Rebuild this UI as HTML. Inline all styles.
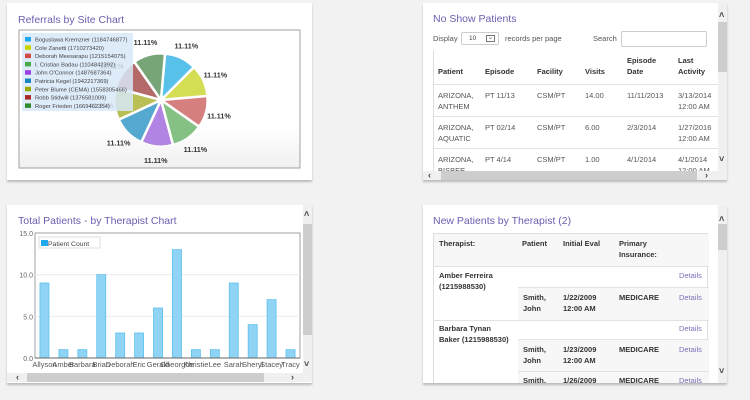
<!DOCTYPE html>
<html><head><meta charset="utf-8"><style>
*{box-sizing:border-box;margin:0;padding:0}
body{width:750px;height:400px;background:#f2f2f2;font-family:"Liberation Sans",sans-serif;position:relative;overflow:hidden;color:#444}
.panel{position:absolute;background:#fff;box-shadow:0 2px 2px #bbb;overflow:hidden}
.title{position:absolute;font-size:10.5px;color:#6a5fb0;white-space:nowrap}
.abs{position:absolute;white-space:nowrap}
.vs{position:absolute;width:9px;background:#f0f0f0}
.hs{position:absolute;height:9px;background:#f0f0f0}
.thumb{position:absolute;background:#cdcdcd}
.t{position:absolute;font-size:7.5px;line-height:11px;color:#555;white-space:nowrap}
.b{font-weight:bold;color:#333}
.ln{position:absolute;height:1px;background:#e2e2e2}
.lk{color:#7a70b8}
.ar{position:absolute;font-size:9px;color:#444;font-weight:bold;line-height:9px}
</style></head><body>

<div class="panel" style="left:7px;top:3px;width:305px;height:177px">
<div class="title" style="left:11px;top:11px">Referrals by Site Chart</div>
<svg id="pie" width="305" height="177" style="position:absolute;left:0;top:0"></svg>
</div>

<div class="panel" style="left:7px;top:205px;width:305px;height:178px">
<div class="title" style="left:11px;top:10px">Total Patients - by Therapist Chart</div>
<svg id="bar" width="305" height="178" style="position:absolute;left:0;top:0"></svg>
<div class="vs" style="left:296px;top:0;height:168px"><div class="thumb" style="left:0;top:19px;width:9px;height:111px"></div><div class="ar" style="left:1px;top:5px">&#708;</div><div class="ar" style="left:1px;top:155px">&#709;</div></div>
<div class="hs" style="left:0;top:168px;width:305px"><div class="thumb" style="left:20px;top:0;width:237px;height:9px"></div><div class="ar" style="left:9px;top:0">&lsaquo;</div><div class="ar" style="left:284px;top:0">&rsaquo;</div></div>
</div>

<div class="panel" style="left:423px;top:3px;width:304px;height:177px">
<div class="title" style="left:10px;top:10px">No Show Patients</div>
<div class="t" style="left:10px;top:30px">Display</div>
<div class="abs" style="left:38px;top:29px;width:38px;height:13px;border:1px solid #ccc;border-radius:2px;font-size:6.5px;padding:2px 0 0 7px">10<span style="position:absolute;right:3px;top:2px;width:9px;height:7px;border:1px solid #777;font-size:6px;line-height:5px;text-align:center">&#8964;</span></div>
<div class="t" style="left:82px;top:30px">records per page</div>
<div class="t" style="left:170px;top:30px">Search</div>
<div class="abs" style="left:198px;top:28px;width:86px;height:16px;border:1px solid #ccc;border-radius:2px"></div>
<div class="abs" style="left:10px;top:47px;width:288px;height:123px;border-left:1px solid #ddd">
<div class="t b" style="left:4px;top:16px">Patient</div><div class="t b" style="left:51px;top:16px">Episode</div><div class="t b" style="left:103px;top:16px">Facility</div><div class="t b" style="left:151px;top:16px">Visits</div><div class="t b" style="left:193px;top:5px">Episode<br>Date</div><div class="t b" style="left:244px;top:5px">Last<br>Activity</div>
<div class="ln" style="left:0;top:34px;width:288px"></div>
<div class="t" style="left:4px;top:40px">ARIZONA,<br>ANTHEM</div><div class="t" style="left:51px;top:40px">PT 11/13</div><div class="t" style="left:103px;top:40px">CSM/PT</div><div class="t" style="left:151px;top:40px">14.00</div><div class="t" style="left:193px;top:40px">11/11/2013</div><div class="t" style="left:244px;top:40px">3/13/2014<br>12:00 AM</div>
<div class="ln" style="left:0;top:66px;width:288px"></div>
<div class="t" style="left:4px;top:72px">ARIZONA,<br>AQUATIC</div><div class="t" style="left:51px;top:72px">PT 02/14</div><div class="t" style="left:103px;top:72px">CSM/PT</div><div class="t" style="left:151px;top:72px">6.00</div><div class="t" style="left:193px;top:72px">2/3/2014</div><div class="t" style="left:244px;top:72px">1/27/2016<br>12:00 AM</div>
<div class="ln" style="left:0;top:98px;width:288px"></div>
<div class="t" style="left:4px;top:104px">ARIZONA,<br>BISBEE</div><div class="t" style="left:51px;top:104px">PT 4/14</div><div class="t" style="left:103px;top:104px">CSM/PT</div><div class="t" style="left:151px;top:104px">1.00</div><div class="t" style="left:193px;top:104px">4/1/2014</div><div class="t" style="left:244px;top:104px">4/1/2014<br>12:00 AM</div>
</div>
<div class="vs" style="left:295px;top:0;height:168px"><div class="thumb" style="left:0;top:19px;width:9px;height:50px"></div><div class="ar" style="left:1px;top:8px">&#708;</div><div class="ar" style="left:1px;top:152px">&#709;</div></div>
<div class="hs" style="left:0;top:168px;width:304px"><div class="thumb" style="left:18px;top:0;width:256px;height:9px"></div><div class="ar" style="left:5px;top:0">&lsaquo;</div><div class="ar" style="left:282px;top:0">&rsaquo;</div></div>
</div>

<div class="panel" style="left:423px;top:205px;width:304px;height:178px">
<div class="title" style="left:10px;top:10px">New Patients by Therapist (2)</div>
<div class="abs" style="left:10px;top:28px;width:275px;height:160px;border:1px solid #ddd">
<div class="abs" style="left:0;top:0;width:275px;height:32px;background:#f7f7f7"></div>
<div class="t b" style="left:5px;top:4px">Therapist:</div><div class="t b" style="left:88px;top:4px">Patient</div><div class="t b" style="left:129px;top:4px">Initial Eval</div><div class="t b" style="left:185px;top:4px">Primary<br>Insurance:</div>
<div class="ln" style="left:0;top:32px;width:275px"></div>
<div class="t b" style="left:5px;top:36px">Amber Ferreira<br>(1215988530)</div><div class="t lk" style="left:245px;top:36px">Details</div>
<div class="abs" style="left:84px;top:53px;width:191px;height:33px;background:#f7f7f7;border-top:1px solid #e2e2e2"></div>
<div class="t b" style="left:89px;top:58px">Smith,<br>John</div><div class="t b" style="left:129px;top:58px">1/22/2009<br>12:00 AM</div><div class="t b" style="left:185px;top:58px">MEDICARE</div><div class="t lk" style="left:245px;top:58px">Details</div>
<div class="ln" style="left:0;top:86px;width:275px"></div>
<div class="t b" style="left:5px;top:89px">Barbara Tynan<br>Baker (1215988530)</div><div class="t lk" style="left:245px;top:89px">Details</div>
<div class="abs" style="left:84px;top:105px;width:191px;height:60px;background:#f7f7f7;border-top:1px solid #e2e2e2"></div>
<div class="t b" style="left:89px;top:110px">Smith,<br>John</div><div class="t b" style="left:129px;top:110px">1/23/2009<br>12:00 AM</div><div class="t b" style="left:185px;top:110px">MEDICARE</div><div class="t lk" style="left:245px;top:110px">Details</div>
<div class="ln" style="left:84px;top:137px;width:191px"></div>
<div class="t b" style="left:89px;top:141px">Smith,</div><div class="t b" style="left:129px;top:141px">1/26/2009</div><div class="t b" style="left:185px;top:141px">MEDICARE</div><div class="t lk" style="left:245px;top:141px">Details</div>
</div>
<div class="vs" style="left:295px;top:0;height:178px"><div class="thumb" style="left:0;top:19px;width:9px;height:26px"></div><div class="ar" style="left:1px;top:10px">&#708;</div><div class="ar" style="left:1px;top:162px">&#709;</div></div>
</div>

<script>
const NS="http://www.w3.org/2000/svg";
function mk(p,tag,attrs,txt){const e=document.createElementNS(NS,tag);for(const k in attrs)e.setAttribute(k,attrs[k]);if(txt!==undefined)e.textContent=txt;p.appendChild(e);return e;}

// ---- Pie data ----
const pieNames=["Boguslawa Kremzner (1184746877)","Cole Zanetti (1710273420)","Deborah Meesarapu (1215154075)","I. Cristian Badau (1104842392)","John O'Connor (1487687364)","Patricia Kegel (1942217369)","Peter Blume (CEMA) (1558305466)","Robb Stidwill (1376581009)","Roger Frieden (1669462354)"];
const pieValues=[1,1,1,1,1,1,1,1,1];
const pieColors=["#57c1ea","#d3de55","#d67f7f","#85c185","#b184e3","#55a8cf","#b9bf55","#b56a6a","#77a577"];
const legColors=["#1fa8ec","#c8d400","#d04a4a","#4aaa4a","#9a3fe8","#1a86c0","#9aaa00","#a82828","#2e8a2e"];
(function(){
  const svg=document.getElementById('pie');
  const defs=mk(svg,'defs',{});
  const g=mk(defs,'linearGradient',{id:'bg',x1:0,y1:0,x2:0,y2:1});
  mk(g,'stop',{offset:'0%','stop-color':'#fff'});
  mk(g,'stop',{offset:'70%','stop-color':'#fff'});
  mk(g,'stop',{offset:'100%','stop-color':'#f0f0f0'});
  mk(svg,'rect',{x:12,y:27,width:281,height:138,fill:'url(#bg)',stroke:'#a0a0a0','stroke-width':1});
  const cx=154,cy=97,r=44,total=pieValues.reduce((a,b)=>a+b,0);
  let a=-85*Math.PI/180;
  pieValues.forEach((v,i)=>{
    const s=v/total*2*Math.PI,a2=a+s,m=a+s/2,ox=Math.cos(m)*2,oy=Math.sin(m)*2;
    const x1=cx+ox+r*Math.cos(a),y1=cy+oy+r*Math.sin(a),x2=cx+ox+r*Math.cos(a2),y2=cy+oy+r*Math.sin(a2);
    const p=mk(svg,'path',{d:`M${cx+ox},${cy+oy}L${x1},${y1}A${r},${r} 0 ${s>Math.PI?1:0} 1 ${x2},${y2}Z`,fill:pieColors[i],stroke:'#fff','stroke-width':1.2});
    
    
    const pct=(v/total*100).toFixed(2)+'%';
    const t=mk(svg,'text',{x:cx+Math.cos(m)*60,y:cy+Math.sin(m)*60+3,'font-size':7.2,'font-weight':'bold',fill:'#333','text-anchor':'middle'},pct);
    
    
    a=a2;
  });
  const lg=mk(svg,'rect',{x:15,y:30,width:111,height:78,fill:'#d8e8f8','fill-opacity':0.85});
  
  
  pieNames.forEach((n,i)=>{
    const y=33+i*8.3;
    mk(svg,'rect',{x:18,y:y+1,width:6,height:4.5,fill:legColors[i]});
    const t=mk(svg,'text',{x:28,y:y+5.5,'font-size':5.8,fill:'#444'},n);
    
    
  });
})();

// ---- Bar data ----
const barCats=["Allyson","Amber","Barbara","Brian","Deborah","Eric","Gerald","Gheorghe","Khristie","Lee","Sarah","Sheryl","Stacey","Tracy"];
const barVals=[9,1,1,10,3,3,6,13,1,1,9,4,7,1];
const yTicks=[0,5,10,15];
const yTickLabels=["0.0","5.0","10.0","15.0"];
(function(){
  const svg=document.getElementById('bar');
  const L=28,R=293,T=28,B=153,ymax=15;
  const y=v=>B-(v/ymax)*(B-T);
  const bw=(R-L)/barCats.length;
  const x=i=>L+bw*(i+0.5);
  mk(svg,'rect',{x:L,y:T,width:R-L,height:B-T,fill:'#fff',stroke:'#a0a0a0'});
  yTicks.forEach((v,i)=>{
    if(v>0&&v<ymax)mk(svg,'line',{x1:L,x2:R,y1:y(v),y2:y(v),stroke:'#ececec'});
    const t=mk(svg,'text',{x:L-2,y:y(v)+3,'font-size':7,fill:'#666','text-anchor':'end'},yTickLabels[i]);
    
    
  });
  barVals.forEach((v,i)=>{
    const r=mk(svg,'rect',{x:x(i)-4.5,y:y(v),width:9,height:B-y(v),fill:'#8fd4f5',stroke:'#5cc0ef','stroke-width':0.8});
    
    
    const t=mk(svg,'text',{x:x(i),y:B+9,'font-size':7.5,fill:'#555','text-anchor':'middle'},barCats[i]);
    
    
  });
  mk(svg,'line',{x1:L,x2:R,y1:B,y2:B,stroke:'#666'});
  const lg=mk(svg,'rect',{x:32,y:32,width:61,height:11,fill:'#fff',stroke:'#ddd'});
  
  
  mk(svg,'rect',{x:34,y:35,width:7,height:6,fill:'#1fa8ec'});
  mk(svg,'text',{x:41,y:41,'font-size':6.8,fill:'#444'},'Patient Count');
})();
</script>
</body></html>
